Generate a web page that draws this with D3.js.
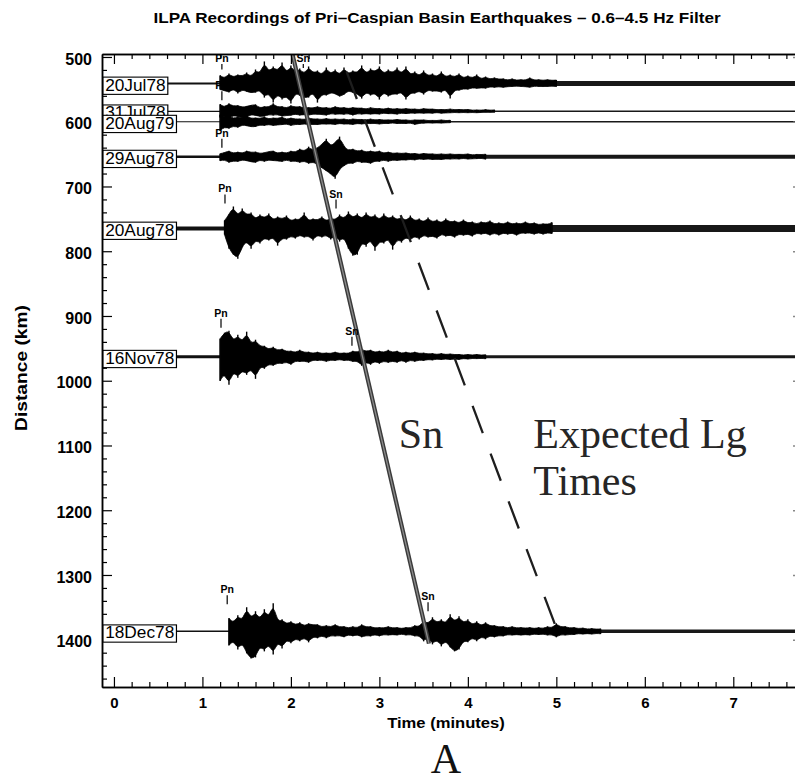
<!DOCTYPE html>
<html>
<head>
<meta charset="utf-8">
<script src="https://cdn.jsdelivr.net/npm/d3@7"></script>
<style>
  body { margin: 0; background: #fff; }
  svg text { font-family: "Liberation Sans", Arial, Helvetica, sans-serif; }
</style>
</head>
<body>
<svg id="chart" width="795" height="784"></svg>
<script>
// ---------------- data ----------------
// events (station ILPA), epicentral distance in km
const eventNames      = ["20Jul78", "31Jul78", "20Aug79", "29Aug78", "20Aug78", "16Nov78", "18Dec78"];
const eventDistanceKm = [541, 584, 600, 654, 765, 963, 1387];
// time of the first envelope sample (minutes) and sample spacing
const onsetMin = [1.2, 1.2, 1.2, 1.2, 1.25, 1.2, 1.3];
const sampleStepMin = 0.05;

// upper / lower peak amplitudes of each filtered trace (relative amplitude units)
const ampUp = [
  [8,5,10,6,9,7,11,6,14,9,22,11,17,12,21,10,18,11,15,9,17,10,13,8,16,9,14,8,16,9,13,10,18,9,15,11,17,9,14,10,16,9,17,8,12,7,13,7,10,6,12,6,9,6,10,5,8,5,9,4,7,4,6,4,5,3,5,3,4,3,6,3,4,3,4,3,3.5],
  [7,4,8,5,6,4,5,6,7,3,5,4,8,4,5,3,6,4,5,3,4,3,5,3,4,2.5,5,3,4,2.5,4,3,3.5,2,4,2.5,3,2,3.5,2,3,2,3,2,2.5,1.5,3,2,2.5,1.5,2,1.5,2.5,1.5,2,1.5,2,1,1.5,1,2,1,1.5],
  [7,4,6,3,5,4,6,3,4,3,5,2.5,4,3,5,2,4,2.5,3,2,4,2.5,3,2,3.5,2,3,2,3,1.5,3,2,2.5,1.5,3,1.5,2.5,1.5,2,1.5,2.5,1.5,2,1,2,1.5,2,1,1.5,1,2,1,1.5],
  [3,4,6,3,5,3,6,4,5,3,4,5,6,3,5,3,6,4,8,5,10,6,9,12,18,10,14,20,10,6,8,5,7,4,6,4,6,3,5,3,4,3,4,2.5,3.5,2,3.5,2.5,3,2,3,2,3,2,2.5,2,3,1.5,2.5,2,2.5],
  [8,14,22,12,20,13,16,9,14,10,15,8,12,9,13,7,10,8,16,7,10,8,12,7,11,8,14,9,17,10,15,9,16,10,14,8,15,9,13,8,12,7,13,7,10,6,11,6,9,5,10,6,8,5,9,5,7,4,7,5,8,4,6,4,7,4,6,4,7,4,6,3.5,5,4,6],
  [18,24,26,15,22,14,25,12,17,10,11,7,10,6,8,5,6,4,7,4,5,3,5,3,4,3,5,3,4,3,6,4,8,5,7,4,6,4,7,4,6,3,5,3,5,3,4,2.5,3.5,2,3.5,2,3,2,2.5,1.5,2.5,1.5,2.5,1.5,2],
  [13,8,16,10,24,12,20,11,22,13,28,9,12,7,10,6,9,5,8,6,7,4,6,4,7,4,5,3,5,3,7,4,5,3,4,3,5,3,4,2.5,4,3,6,4,11,7,14,8,12,7,17,9,15,8,12,6,10,5,9,5,6,4,5,3,5,3,4,3,4,2.5,4,2.5,5,3,8,4,5,3,4,2.5,3.5,2,3,2,2.5]
];
const ampDown = [
  [6,7,9,5,10,6,8,9,9,6,14,9,19,10,16,12,20,9,12,14,14,8,19,10,12,9,10,13,11,7,9,10,15,8,12,9,16,8,13,10,11,8,16,9,10,7,11,6,8,7,9,5,15,6,7,5,6,4,5,4,5,3,4,3,4,3,3,2.5,3,3,4,2.5,3,3,3,2.5,3],
  [6,5,7,4,5,6,6,3,4,5,5,3,4,3,5,4,4,2.5,4,3,4,2.5,3,3,4,2,3,2.5,3,2,4,2,3,2,3,2,3,1.5,2.5,2,3,1.5,2.5,1.5,2,1.5,2,1.5,2,1,2,1.5,1.5,1,1.5,1,1.5,1,1.5,1,1,1,1],
  [9,5,7,4,6,3,4,5,5,3,4,2.5,4,3,3,2,4,2.5,3,2,3,2.5,3,2,2.5,2,3,1.5,2.5,2,3,1.5,2.5,1.5,2,1.5,2.5,1.5,2,1,2,1.5,2,1,3,1.5,1.5,1,1.5,1,1.5,1,1],
  [4,3,6,4,5,3,4,5,6,3,5,3,4,4,5,3,5,4,6,4,7,5,8,11,14,17,22,12,9,6,7,4,6,5,7,4,5,3,5,3,4,3,3.5,2.5,3.5,2,3,2,3,2.5,3,2,2.5,2,2.5,1.5,2.5,2,2,1.5,2.5],
  [6,20,26,30,18,12,20,11,15,9,12,8,17,9,11,7,10,6,9,7,12,6,9,6,11,7,13,8,20,27,26,13,18,10,22,12,15,9,21,10,14,8,12,7,11,6,9,7,10,5,8,6,9,5,7,5,8,4,6,4,7,4,7,4,6,4,7,4,5,4,6,3.5,6,4,5],
  [24,16,28,14,21,13,18,11,22,9,12,7,9,6,7,5,8,4,5,4,6,3,4,3,5,3,4,2.5,4,3,5,4,9,5,8,4,7,4,6,4,6,3,6,3,5,3,4,2.5,3.5,2,3,2,3,2,3,1.5,2.5,1.5,2,1.5,2],
  [14,9,18,11,22,27,26,14,20,12,23,10,17,8,12,7,10,6,11,5,7,4,7,4,5,4,6,3,5,3,6,4,5,3,5,3,4,3,4,2.5,4,3,5,4,10,6,13,8,15,9,16,20,18,9,11,6,10,5,8,4,6,4,5,3,4,3,4,3,4,2.5,3.5,2.5,4,3,6,3,4,3,3.5,2,3,2,3,2,2.5]
];
// background noise band (full width, amplitude units) before the onset and in the late coda
const preNoise  = [2, 1.2, 1.2, 2.5, 4, 3, 1.5];
const codaNoise = [5, 1.5, 1.5, 4, 7, 3, 3.5];

// picked phases
const markerEvent = ["20Jul78", "20Jul78", "31Jul78", "29Aug78", "20Aug78", "20Aug78", "16Nov78", "16Nov78", "18Dec78", "18Dec78"];
const markerPhase = ["Pn", "Sn", "Pn", "Pn", "Pn", "Sn", "Pn", "Sn", "Pn", "Sn"];
const markerMin   = [1.22, 2.14, 1.22, 1.22, 1.255, 2.51, 1.21, 2.69, 1.28, 3.55];

// travel-time curves: [minutes], [km]
const snCurveMin = [2.02, 3.56];
const snCurveKm  = [497, 1406];
const lgCurveMin = [2.63, 5.00];
const lgCurveKm  = [523, 1382];

// axis ticks
const xTickValues = [0, 1, 2, 3, 4, 5, 6, 7];
const yTickValues = [500, 600, 700, 800, 900, 1000, 1100, 1200, 1300, 1400];

// ---------------- drawing ----------------
const svg = d3.select("#chart");
const plot = { left: 102, right: 797, top: 54, bottom: 687 };

const x = d3.scaleLinear().domain([-0.135, 7.72]).range([plot.left, plot.right]);
const y = d3.scaleLinear().domain([495.4, 1473]).range([plot.top, plot.bottom]);
const traceGainKm = 1.55;                       // km of offset per amplitude unit
const ampPx = a => Math.abs(y(a * traceGainKm) - y(0));

svg.append("defs").append("clipPath").attr("id", "plotClip")
  .append("rect")
  .attr("x", plot.left).attr("y", plot.top)
  .attr("width", plot.right - plot.left).attr("height", plot.bottom - plot.top);

const gData = svg.append("g").attr("clip-path", "url(#plotClip)");

// traces: noise band, smoothed body and one stick per peak sample
eventNames.forEach((name, i) => {
  const d = eventDistanceKm[i];
  const up = ampUp[i], dn = ampDown[i];
  const tAt = k => onsetMin[i] + k * sampleStepMin;
  const tLast = tAt(up.length - 1);
  const g = gData.append("g").attr("class", "trace");

  g.append("line")
    .attr("x1", x(x.domain()[0])).attr("x2", x(onsetMin[i]))
    .attr("y1", y(d)).attr("y2", y(d))
    .attr("stroke", "#111").attr("stroke-width", ampPx(preNoise[i]));

  g.append("line")
    .attr("x1", x(tLast)).attr("x2", x(x.domain()[1]))
    .attr("y1", y(d)).attr("y2", y(d))
    .attr("stroke", "#181818").attr("stroke-width", ampPx(codaNoise[i]));

  const body = d3.area()
    .x((v, k) => x(tAt(k)))
    .y0((v, k) => y(d + dn[k] * traceGainKm))
    .y1((v, k) => y(d - up[k] * traceGainKm))
    .curve(d3.curveBasis);

  g.append("path").datum(up)
    .attr("d", body)
    .attr("fill", "#000").attr("stroke", "#000").attr("stroke-width", 0.8);

  g.selectAll("line.peak").data(up).join("line")
    .attr("class", "peak")
    .attr("x1", (v, k) => x(tAt(k))).attr("x2", (v, k) => x(tAt(k)))
    .attr("y1", (v, k) => y(d - up[k] * traceGainKm))
    .attr("y2", (v, k) => y(d + dn[k] * traceGainKm))
    .attr("stroke", "#000").attr("stroke-width", 1.4);
});

// expected Lg (dashed) and Sn (solid) travel-time curves
const curve = d3.line().x(p => x(p[0])).y(p => y(p[1]));
gData.append("path")
  .datum(lgCurveMin.map((t, k) => [t, lgCurveKm[k]]))
  .attr("d", curve)
  .attr("fill", "none").attr("stroke", "#1e1e1e").attr("stroke-width", 2.3)
  .attr("stroke-dasharray", "29,22");

const snPts = snCurveMin.map((t, k) => [t, snCurveKm[k]]);
gData.append("path").datum(snPts).attr("d", curve)
  .attr("fill", "none").attr("stroke", "#3a3a3a").attr("stroke-width", 4.2);
gData.append("path").datum(snPts).attr("d", curve)
  .attr("fill", "none").attr("stroke", "#8c8c8c").attr("stroke-width", 1.3);

// phase picks: tick just above the local maximum of the envelope
markerEvent.forEach((ev, m) => {
  const i = eventNames.indexOf(ev);
  const t = markerMin[m];
  let peak = 0;
  ampUp[i].forEach((a, k) => {
    const tk = onsetMin[i] + k * sampleStepMin;
    if (tk >= t - 0.05 && tk <= t + 0.3) peak = Math.max(peak, a);
  });
  const base = y(eventDistanceKm[i]);
  let tickBottom = base - ampPx(peak) - 3;
  let tickTop = tickBottom - 9;
  if (tickTop < plot.top + 10) { tickTop = plot.top + 10; tickBottom = Math.max(tickBottom, tickTop + 4); }
  gData.append("line")
    .attr("x1", x(t)).attr("x2", x(t))
    .attr("y1", tickTop).attr("y2", tickBottom)
    .attr("stroke", "#000").attr("stroke-width", 1.2);
  gData.append("text")
    .attr("x", x(t)).attr("y", tickTop - 2)
    .attr("text-anchor", "middle")
    .attr("font-size", 10.5).attr("font-weight", "bold")
    .text(markerPhase[m]);
});

// ---------------- axes ----------------
const styleAxis = g => {
  g.selectAll(".domain").attr("stroke", "#000").attr("stroke-width", 1.5);
  g.selectAll(".tick line").attr("stroke", "#000").attr("stroke-width", 1.2);
  g.selectAll(".tick text").attr("fill", "#000").attr("font-weight", "bold")
    .attr("font-family", "'Liberation Sans', Arial, sans-serif");
};
const xMinor = d3.range(0, 7.71, 0.2).filter(v => Math.abs(v - Math.round(v)) > 1e-6);
const yMinor = d3.range(500, 1473, 20).filter(v => v % 100 !== 0);

svg.append("g").attr("transform", `translate(0,${plot.bottom})`)
  .call(d3.axisBottom(x).tickValues(xMinor).tickSize(-5).tickSizeOuter(0).tickFormat(""))
  .call(styleAxis);
svg.append("g").attr("transform", `translate(0,${plot.bottom})`)
  .call(d3.axisBottom(x).tickValues(xTickValues).tickSize(-10).tickSizeOuter(0).tickPadding(10).tickFormat(d3.format("d")))
  .call(styleAxis)
  .call(g => g.selectAll(".tick text").attr("font-size", 15));

svg.append("g").attr("transform", `translate(0,${plot.top})`)
  .call(d3.axisTop(x).tickValues(xMinor).tickSize(-5).tickSizeOuter(0).tickFormat(""))
  .call(styleAxis);
svg.append("g").attr("transform", `translate(0,${plot.top})`)
  .call(d3.axisTop(x).tickValues(xTickValues).tickSize(-10).tickSizeOuter(0).tickFormat(""))
  .call(styleAxis);

svg.append("g").attr("transform", `translate(${plot.left},0)`)
  .call(d3.axisLeft(y).tickValues(yMinor).tickSize(-5).tickSizeOuter(0).tickFormat(""))
  .call(styleAxis);
svg.append("g").attr("transform", `translate(${plot.left},0)`)
  .call(d3.axisLeft(y).tickValues(yTickValues).tickSize(-10).tickSizeOuter(0).tickPadding(10).tickFormat(d3.format("d")))
  .call(styleAxis)
  .call(g => g.selectAll(".tick text").attr("font-size", 16).attr("dy", "0.45em"));

svg.append("g").attr("transform", `translate(${plot.right},0)`)
  .call(d3.axisRight(y).tickValues(yTickValues).tickSize(-4).tickSizeOuter(0).tickFormat(""))
  .call(g => {
    g.selectAll(".domain").attr("stroke", "none");
    g.selectAll(".tick line").attr("stroke", "#888").attr("stroke-width", 1.5);
  });

// ---------------- event name boxes ----------------
const gLabels = svg.append("g");
eventNames.forEach((name, i) => {
  const g = gLabels.append("g")
    .attr("transform", `translate(${plot.left + 1},${y(eventDistanceKm[i])}) scale(1.08,1)`);
  const rect = g.append("rect");
  const txt = g.append("text")
    .attr("x", 2).attr("y", 7)
    .attr("font-size", 16).attr("fill", "#000")
    .text(name);
  const bb = txt.node().getBBox();
  rect.attr("x", 0).attr("y", bb.y + 1)
    .attr("width", bb.width + 4).attr("height", bb.height - 1)
    .attr("fill", "#fff").attr("stroke", "#000").attr("stroke-width", 1.1);
});

// ---------------- titles ----------------
function addText(opts) {
  const g = svg.append("g")
    .attr("transform", `translate(${opts.x},${opts.y})` +
      (opts.rotate ? ` rotate(${opts.rotate})` : "") + ` scale(${opts.sx || 1},1)`);
  const t = g.append("text")
    .attr("text-anchor", opts.anchor || "middle")
    .attr("font-size", opts.size)
    .attr("font-weight", opts.weight || "normal")
    .attr("fill", opts.fill || "#000")
    .text(opts.text);
  if (opts.family) t.style("font-family", opts.family);
  return t;
}

addText({ x: 437, y: 23, text: "ILPA Recordings of Pri\u2013Caspian Basin Earthquakes \u2013 0.6\u20134.5 Hz Filter",
          size: 14.5, weight: "bold", sx: 1.18 });
addText({ x: 446, y: 728, text: "Time (minutes)", size: 15.5, weight: "bold", sx: 1.07 });
addText({ x: 27, y: 368, rotate: -90, text: "Distance (km)", size: 16, weight: "bold", sx: 1.2 });

// curve annotations, placed in data coordinates
const serif = "'Liberation Serif', 'Times New Roman', Times, serif";
addText({ x: x(3.22), y: y(1104), text: "Sn", size: 42, anchor: "start", family: serif, fill: "#262626" });
addText({ x: x(4.74), y: y(1104), text: "Expected Lg", size: 42, anchor: "start", family: serif, fill: "#262626" });
addText({ x: x(4.74), y: y(1176.5), text: "Times", size: 42, anchor: "start", family: serif, fill: "#262626" });

addText({ x: 446, y: 773, text: "A", size: 42, family: serif, fill: "#111" });
</script>
</body>
</html>
